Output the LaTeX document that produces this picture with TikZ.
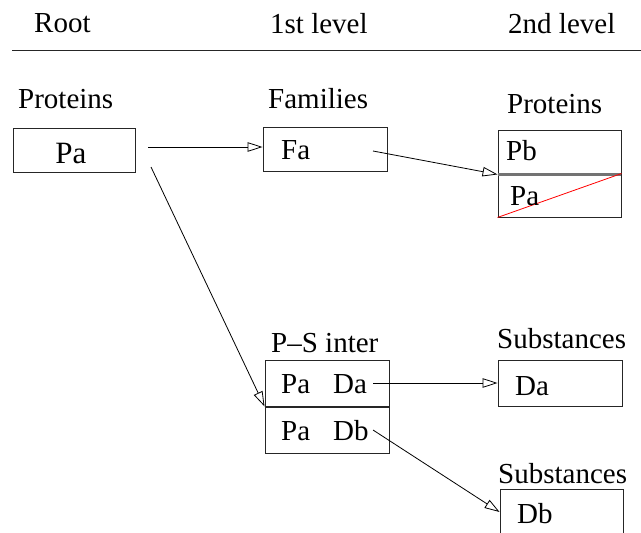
\documentclass[tikz,border=0pt]{standalone}
\usepackage{fontspec}
\newfontfamily\tms{LiberationSerif}[Extension=.ttf,UprightFont=*-Regular]
\usetikzlibrary{arrows.meta}
\begin{document}
\begin{tikzpicture}[x=1pt,y=-1pt,
  lbl/.style={anchor=base west,inner sep=0pt,font=\tms\fontsize{29}{33}\selectfont},
  box/.style={draw=black!85,line width=0.9pt,rectangle,inner sep=0pt},
  conn/.style={line width=0.8pt,-{Triangle[open,length=15pt,width=9.5pt]}}]
\clip (0,0) rectangle (641,533);
\useasboundingbox (0,0) rectangle (641,533);
% header
\node[lbl] (hroot) at (34,32) {Root};
\node[lbl] (hone) at (270,33) {1st level};
\node[lbl] (htwo) at (508,33) {2nd level};
\draw[line width=0.9pt,black!85] (12,50) -- (641,50);
% root
\node[lbl] (lp) at (18,108) {Proteins};
\node[box,minimum width=122pt,minimum height=44pt] (bpa) at (74,150) {};
\node[lbl,anchor=base,font=\tms\fontsize{31}{35}\selectfont] (tpa) at (71,163) {Pa};
% families
\node[lbl] (lf) at (268,108) {Families};
\node[box,minimum width=124pt,minimum height=44pt] (bfa) at (325,149) {};
\node[lbl] (tfa) at (281,159) {Fa};
% proteins 2nd
\node[lbl] (lp2) at (507,113) {Proteins};
\node[box,minimum width=123pt,minimum height=44pt] (bpb) at (559.5,152) {};
\node[box,minimum width=123pt,minimum height=43pt] (bpa2) at (559.5,195.5) {};
\draw[line width=2.6pt,black!55] (bpb.south west) -- (bpb.south east);
\draw[red,line width=0.8pt] (bpa2.south west) -- (bpa2.north east);
\node[lbl] (tpb) at (506,160) {Pb};
\node[lbl] (tpa2) at (510,205) {Pa};
% P-S inter
\node[lbl] (lps) at (271,352) {P\textendash S inter};
\node[box,minimum width=124pt,minimum height=46pt] (bda) at (327,383) {};
\node[box,minimum width=124pt,minimum height=46pt] (bdb) at (327,430) {};
\node[lbl] (tpa3) at (281,393) {Pa};
\node[lbl] (tda) at (333,393) {Da};
\node[lbl] (tpa4) at (281,440) {Pa};
\node[lbl] (tdb) at (333,440) {Db};
% substances
\node[lbl] (ls1) at (497,348) {Substances};
\node[box,minimum width=124pt,minimum height=46pt] (bsda) at (560,383) {};
\node[lbl] (tsda) at (515,395) {Da};
\node[lbl] (ls2) at (498,483) {Substances};
\node[box,minimum width=123pt,minimum height=70pt] (bsdb) at (561.5,524) {};
\node[lbl] (tsdb) at (517,523) {Db};
% connector end points
\coordinate (s1) at (148,147);
\coordinate (s2) at (151,167);
\coordinate (s3) at (373,151);
\coordinate (s4) at (373,383);
\coordinate (s5) at (373,430);
\draw[conn] (s1) -- (bfa.west |- s1);
\draw[conn] (s2) -- (bda.south west);
\draw[conn] (s3) -- (bpb.south west);
\draw[conn] (s4) -- (bsda.west);
\draw[conn] (s5) -- (bsdb.west |- 0,512);
\end{tikzpicture}
\end{document}
